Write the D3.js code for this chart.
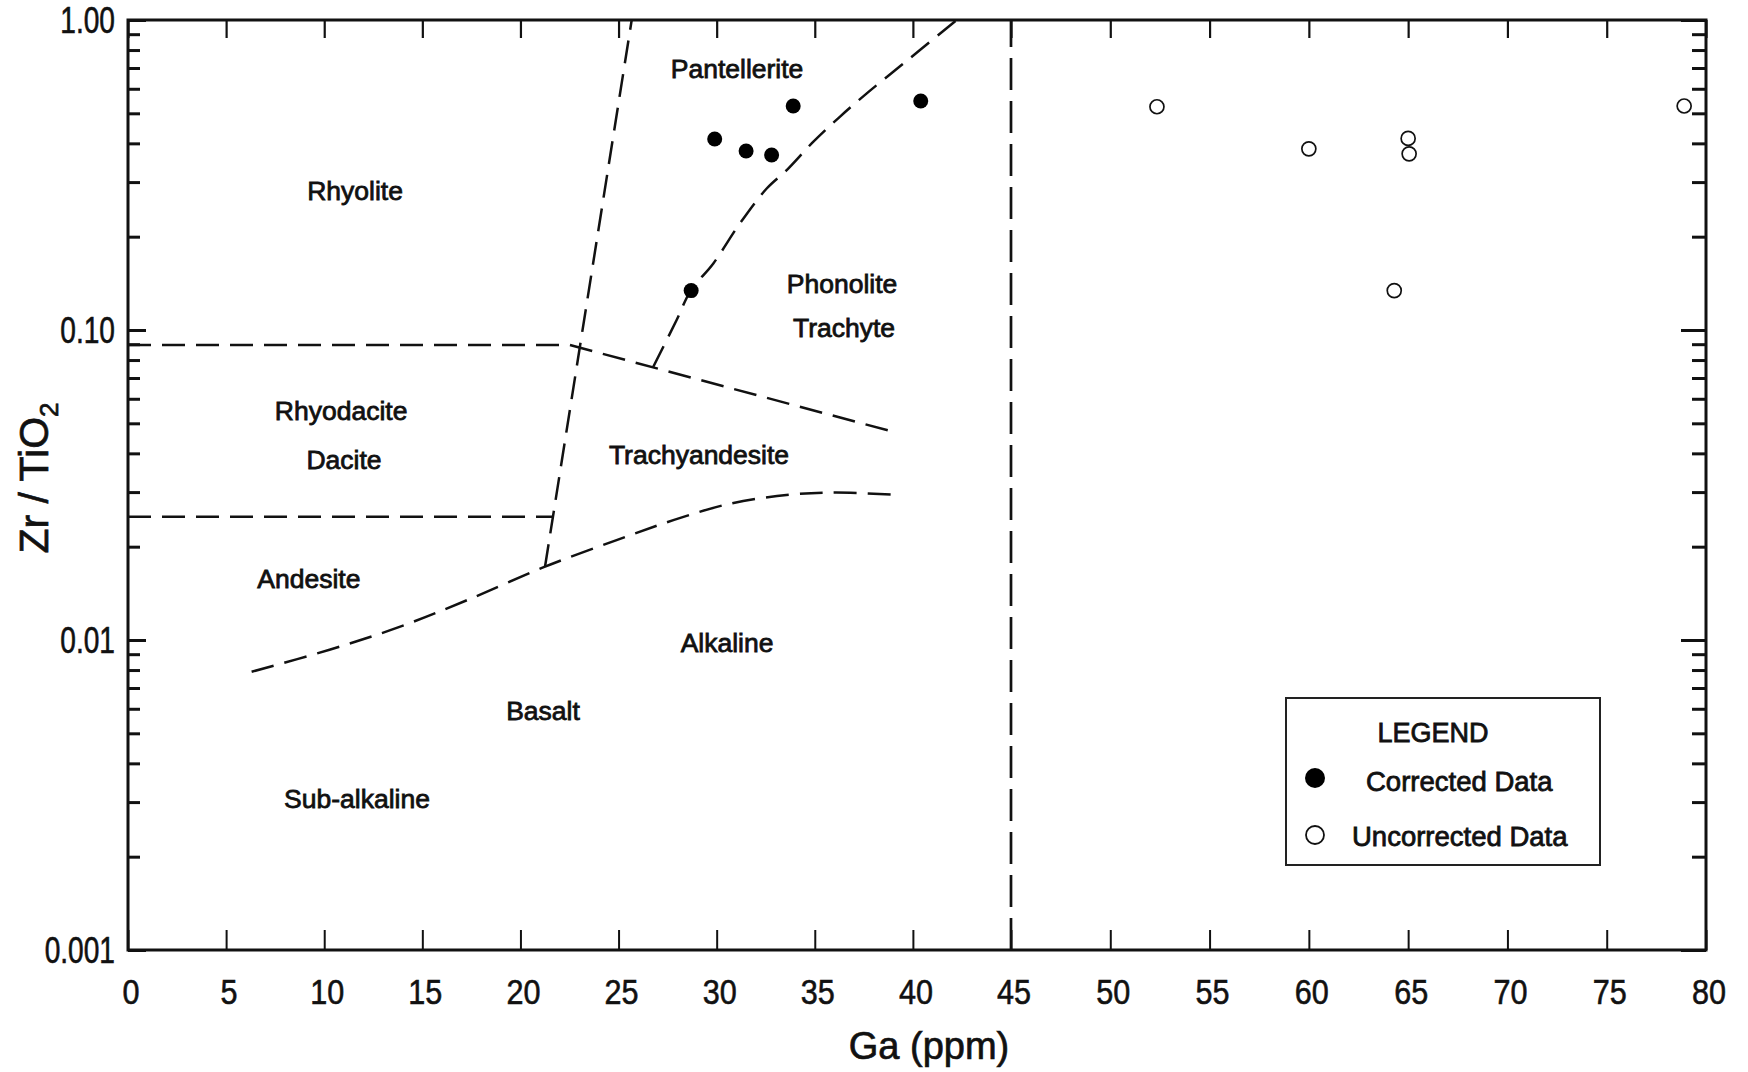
<!DOCTYPE html>
<html>
<head>
<meta charset="utf-8">
<script src="https://cdn.jsdelivr.net/npm/d3@7"></script>
<style>
body { margin: 0; background: #fff; }
svg text { font-family: "Liberation Sans", Arial, sans-serif; fill: #111; stroke: #111; }
</style>
</head>
<body>
<svg id="chart" width="1748" height="1072"></svg>
<script>
// tick values + labels
var xTickValues = [0, 5, 10, 15, 20, 25, 30, 35, 40, 45, 50, 55, 60, 65, 70, 75, 80];
var yMajorValues = [0.001, 0.01, 0.1, 1];
var yMajorLabels = ["0.001", "0.01", "0.10", "1.00"];

// samples
var correctedGa    = [28.7, 29.9, 31.5, 32.8, 33.9, 40.4];
var correctedRatio = [0.134, 0.413, 0.378, 0.367, 0.528, 0.548];
var uncorrectedGa    = [52.35, 60.0, 65.0, 65.05, 64.3, 78.9];
var uncorrectedRatio = [0.525, 0.384, 0.415, 0.370, 0.134, 0.528];

// field boundaries  [Ga, Zr/TiO2]
var upperBoundary = [[0, 0.0895], [22.5, 0.0895], [39.25, 0.0465]];
var lowerBoundary = [[0, 0.025], [21.7, 0.025]];
var rhyoliteBoundary = [[21.25, 0.0172], [25.67, 1.0]];
var alkalineBoundary = [[6.3, 0.0079], [10.27, 0.0093], [13.8, 0.011], [17.3, 0.01346], [21.25, 0.01724],
    [24.9, 0.021], [27.83, 0.0244], [30.76, 0.0276], [33.7, 0.0294], [36.0, 0.0299], [39.25, 0.0294]];
var pantelleriteBoundary = [[26.77, 0.0761], [27.96, 0.1077], [28.68, 0.134], [29.83, 0.164], [31.19, 0.221],
    [32.55, 0.286], [33.57, 0.328], [34.93, 0.405], [36.29, 0.488], [37.65, 0.58], [39.0, 0.681],
    [40.36, 0.8], [42.23, 1.0]];
var gaLimit = [[45, 0.001], [45, 1.0]];

// field names
var fieldNames = ["Rhyolite", "Pantellerite", "Phonolite", "Trachyte", "Rhyodacite", "Dacite",
    "Trachyandesite", "Andesite", "Alkaline", "Basalt", "Sub-alkaline"];
var fieldGa    = [11.57, 31.04, 36.39, 36.49, 10.86, 11.01, 29.1, 9.22, 30.53, 21.15, 11.67];
var fieldRatio = [0.281, 0.695, 0.141, 0.1015, 0.0548, 0.0381, 0.0395, 0.01573, 0.00977, 0.0059, 0.00307];

var svg = d3.select("#chart");

var x = d3.scaleLinear().domain([0, 45, 80]).range([128, 1011, 1706]);
var y = d3.scaleLog().domain([0.001, 1]).range([950, 20]);

var yMinor = y.ticks().filter(function (v) { return yMajorValues.indexOf(v) < 0; });

function tickStyle(g, w) {
    g.select(".domain").remove();
    g.selectAll("line").attr("stroke", "#111").attr("stroke-width", w);
    g.selectAll("text").remove();
}

// bottom / top
svg.append("g").attr("transform", "translate(0,950)")
    .call(d3.axisBottom(x).tickValues(xTickValues).tickSize(-20))
    .call(tickStyle, 2);
svg.append("g").attr("transform", "translate(0,20)")
    .call(d3.axisTop(x).tickValues(xTickValues).tickSize(-18))
    .call(tickStyle, 2.2);

// left
svg.append("g").attr("transform", "translate(128,0)")
    .call(d3.axisLeft(y).tickValues(yMajorValues).tickSize(-18))
    .call(tickStyle, 3);
svg.append("g").attr("transform", "translate(128,0)")
    .call(d3.axisLeft(y).tickValues(yMinor).tickSize(-12))
    .call(tickStyle, 3);
// right
svg.append("g").attr("transform", "translate(1706,0)")
    .call(d3.axisRight(y).tickValues(yMajorValues).tickSize(-25))
    .call(tickStyle, 3);
svg.append("g").attr("transform", "translate(1706,0)")
    .call(d3.axisRight(y).tickValues(yMinor).tickSize(-14))
    .call(tickStyle, 3);

// frame
svg.append("rect")
    .attr("x", 128).attr("y", 20)
    .attr("width", 1706 - 128).attr("height", 950 - 20)
    .attr("fill", "none").attr("stroke", "#111").attr("stroke-width", 3);

// tick labels (narrow face)
svg.selectAll(".xlab").data(xTickValues).enter()
    .append("text").attr("class", "xlab")
    .attr("transform", function (d) { return "translate(" + (x(d) + 3) + ",1004) scale(0.85,1)"; })
    .attr("text-anchor", "middle")
    .style("font-size", "36px").style("stroke-width", 0.6)
    .text(function (d) { return d; });

svg.selectAll(".ylab").data(yMajorValues).enter()
    .append("text").attr("class", "ylab")
    .attr("transform", function (d) { return "translate(115," + (y(d) + 13) + ") scale(0.76,1)"; })
    .attr("text-anchor", "end")
    .style("font-size", "37px").style("stroke-width", 0.6)
    .text(function (d, i) { return yMajorLabels[i]; });

// axis titles
svg.append("text")
    .attr("x", 929).attr("y", 1059)
    .attr("text-anchor", "middle")
    .style("font-size", "38px").style("stroke-width", 0.7)
    .text("Ga (ppm)");

var yt = svg.append("text")
    .attr("transform", "translate(48,478) rotate(-90)")
    .attr("text-anchor", "middle")
    .style("font-size", "41px").style("stroke-width", 0.7);
yt.append("tspan").text("Zr / TiO");
yt.append("tspan").attr("dy", 10).style("font-size", "26px").text("2");

// boundaries
var line = d3.line()
    .x(function (d) { return x(d[0]); })
    .y(function (d) { return y(d[1]); });
var smooth = d3.line()
    .x(function (d) { return x(d[0]); })
    .y(function (d) { return y(d[1]); })
    .curve(d3.curveCatmullRom);

var dashed = [
    [upperBoundary, line], [lowerBoundary, line], [rhyoliteBoundary, line],
    [alkalineBoundary, smooth], [pantelleriteBoundary, smooth]
];
dashed.forEach(function (b) {
    svg.append("path")
        .attr("d", b[1](b[0]))
        .attr("fill", "none")
        .attr("stroke", "#111")
        .attr("stroke-width", 2.5)
        .attr("stroke-dasharray", "23,11");
});
svg.append("path")
    .attr("d", line(gaLimit))
    .attr("fill", "none")
    .attr("stroke", "#111")
    .attr("stroke-width", 2.7)
    .attr("stroke-dasharray", "32,11");

// field labels
svg.selectAll(".field").data(fieldNames).enter()
    .append("text").attr("class", "field")
    .attr("x", function (d, i) { return x(fieldGa[i]); })
    .attr("y", function (d, i) { return y(fieldRatio[i]) + 9; })
    .attr("text-anchor", "middle")
    .style("font-size", "26.5px").style("stroke-width", 0.8)
    .text(function (d) { return d; });

// points
svg.selectAll(".corr").data(correctedGa).enter()
    .append("circle").attr("class", "corr")
    .attr("cx", function (d) { return x(d); })
    .attr("cy", function (d, i) { return y(correctedRatio[i]); })
    .attr("r", 7.5)
    .attr("fill", "#000");

svg.selectAll(".unc").data(uncorrectedGa).enter()
    .append("circle").attr("class", "unc")
    .attr("cx", function (d) { return x(d); })
    .attr("cy", function (d, i) { return y(uncorrectedRatio[i]); })
    .attr("r", 7)
    .attr("fill", "none")
    .attr("stroke", "#111")
    .attr("stroke-width", 1.7);

// legend
var lg = svg.append("g");
lg.append("rect")
    .attr("x", 1286).attr("y", 698)
    .attr("width", 314).attr("height", 167)
    .attr("fill", "#fff").attr("stroke", "#222").attr("stroke-width", 2);
lg.append("text").attr("x", 1433).attr("y", 742)
    .attr("text-anchor", "middle").style("font-size", "27px").style("stroke-width", 0.8)
    .text("LEGEND");
lg.append("circle").attr("cx", 1315).attr("cy", 778).attr("r", 10).attr("fill", "#000");
lg.append("text").attr("x", 1366).attr("y", 791)
    .style("font-size", "27.5px").style("stroke-width", 0.8)
    .text("Corrected Data");
lg.append("circle").attr("cx", 1315).attr("cy", 835).attr("r", 9)
    .attr("fill", "none").attr("stroke", "#111").attr("stroke-width", 1.8);
lg.append("text").attr("x", 1352).attr("y", 846)
    .style("font-size", "27.5px").style("stroke-width", 0.8)
    .text("Uncorrected Data");
</script>
</body>
</html>
